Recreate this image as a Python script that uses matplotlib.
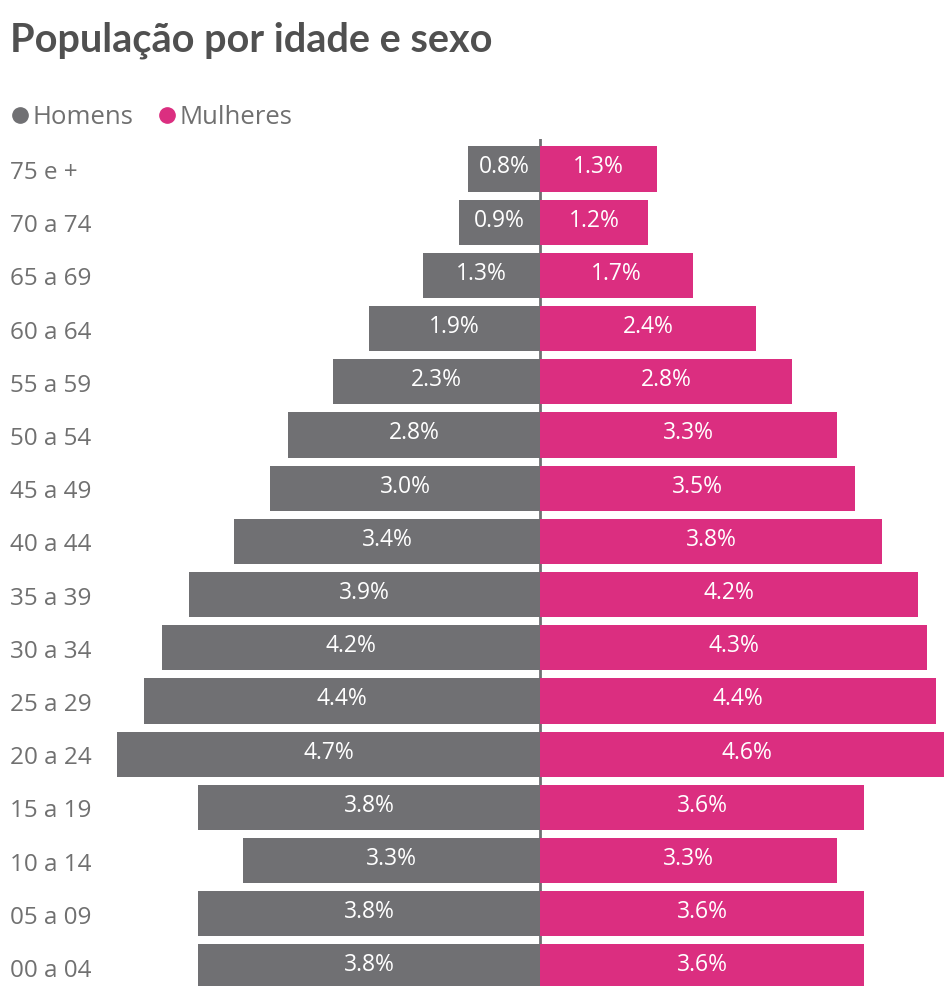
import matplotlib.pyplot as plt
from matplotlib.lines import Line2D
import numpy as np

# Age groups from youngest (bottom) to oldest (top)
faixas = ['00 a 04', '05 a 09', '10 a 14', '15 a 19', '20 a 24', '25 a 29',
          '30 a 34', '35 a 39', '40 a 44', '45 a 49', '50 a 54', '55 a 59',
          '60 a 64', '65 a 69', '70 a 74', '75 e +']
homens = [3.8, 3.8, 3.3, 3.8, 4.7, 4.4, 4.2, 3.9, 3.4, 3.0, 2.8, 2.3, 1.9, 1.3, 0.9, 0.8]
mulheres = [3.6, 3.6, 3.3, 3.6, 4.6, 4.4, 4.3, 4.2, 3.8, 3.5, 3.3, 2.8, 2.4, 1.7, 1.2, 1.3]

cor_h = '#707073'
cor_m = '#DB2E80'
cor_texto = '#707070'

plt.rcParams['font.family'] = ['Open Sans', 'DejaVu Sans']

W, H = 945, 987
fig = plt.figure(figsize=(W / 100, H / 100), dpi=100)
ax = fig.add_axes([110 / W, 0, 835 / W, (H - 140) / H])

y = np.arange(len(faixas))
h = -np.array(homens)
m = np.array(mulheres)

ax.barh(y, h, height=0.85, color=cor_h)
ax.barh(y, m, height=0.85, color=cor_m)
ax.axvline(0, color=cor_h, lw=2, zorder=0)

# value labels centred inside each bar
for yi, v in zip(y, homens):
    ax.text(-v / 2, yi + 0.05, f'{v:.1f}%', ha='center', va='center',
            color='white', fontsize=16.5)
for yi, v in zip(y, mulheres):
    ax.text(v / 2, yi + 0.05, f'{v:.1f}%', ha='center', va='center',
            color='white', fontsize=16.5)

ax.set_xlim(-430 / 90, 405 / 90)
ax.set_ylim((968 - 987) / 53.2, (968 - 140) / 53.2)
ax.set_yticks(y)
ax.set_yticklabels(faixas, fontsize=17.5, color=cor_texto)
for lbl in ax.get_yticklabels():
    lbl.set_horizontalalignment('left')
ax.tick_params(axis='y', length=0, pad=72)
ax.tick_params(axis='x', bottom=False, labelbottom=False)
for s in ax.spines.values():
    s.set_visible(False)

fig.text(10 / W, 1 - 40 / H, 'População por idade e sexo', fontsize=28.5,
         fontweight='bold', color='#505050', family='Lato', va='center')

handles = [Line2D([], [], marker='o', ls='', color=cor_h, markersize=11),
           Line2D([], [], marker='o', ls='', color=cor_m, markersize=11)]
fig.legend(handles, ['Homens', 'Mulheres'], loc='center left',
           bbox_to_anchor=(12 / W, 1 - 118 / H), ncol=2, frameon=False,
           borderaxespad=0, borderpad=0, handlelength=0.6,
           handletextpad=0.2, columnspacing=1.0,
           fontsize=18.5, labelcolor=cor_texto)

fig.savefig('out.png', dpi=100, facecolor='white')
